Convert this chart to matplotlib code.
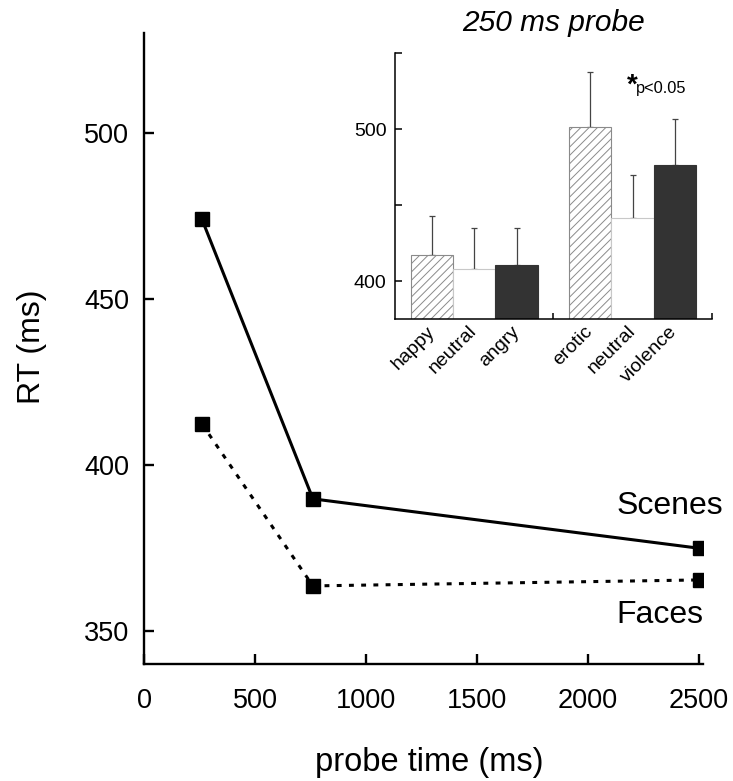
import numpy as np
import matplotlib.pyplot as plt

plt.rcParams['font.family'] = ['Liberation Sans', 'DejaVu Sans']
plt.rcParams['hatch.linewidth'] = 0.7
plt.rcParams['hatch.color'] = '#8a8a8a'

# ----- Main chart data -----
probe_time = [260, 760, 2505]
scenes_rt = [473.9, 389.8, 374.9]
faces_rt = [412.3, 363.6, 365.4]

# ----- Inset data (250 ms probe) -----
inset_labels = ['happy', 'neutral', 'angry', 'erotic', 'neutral', 'violence']
inset_rt = [417.1, 408.0, 410.5, 501.2, 441.4, 476.7]
inset_err_top = [442.9, 434.8, 434.8, 537.8, 470.1, 506.5]

fig = plt.figure(figsize=(7.33, 7.81), dpi=100)

# ----- Main axes -----
ax = fig.add_axes([0.1969, 0.1494, 0.7626, 0.8083])
ax.plot(probe_time, scenes_rt, color='black', lw=2.2, marker='s',
        markersize=10, solid_joinstyle='miter')
ax.plot(probe_time, faces_rt, color='black', lw=2.2, ls=(0, (1.6, 2.4)),
        marker='s', markersize=10)

ax.set_xlim(0, 2520)
ax.set_ylim(340, 530)
ax.set_xticks([0, 500, 1000, 1500, 2000, 2500])
ax.set_yticks([350, 400, 450, 500])
for s in ['top', 'right']:
    ax.spines[s].set_visible(False)
for s in ['left', 'bottom']:
    ax.spines[s].set_linewidth(1.7)
ax.tick_params(direction='in', length=7, width=1.7, labelsize=19.5)
ax.tick_params(axis='x', pad=17)
ax.tick_params(axis='y', pad=11)

ax.set_xlabel('probe time (ms)', fontsize=23.5, va='center')
ax.xaxis.set_label_coords(0.509, -0.1548)
ax.set_ylabel('RT (ms)', fontsize=23, va='center')
ax.yaxis.set_label_coords(-0.201, 0.503)

ax.text(2130, 385.2, 'Scenes', fontsize=23, va='baseline', ha='left')
ax.text(2130, 352.4, 'Faces', fontsize=23, va='baseline', ha='left')

# ----- Inset bar chart -----
ins = fig.add_axes([0.5389, 0.5915, 0.4322, 0.3403])
pad = 0.37
group_w = 3 + 2 * pad
idx = np.arange(6)
bar_x = pad + 0.5 + idx + (idx >= 3) * 2 * pad

styles = [
    dict(facecolor='white', edgecolor='#8a8a8a', hatch='////', lw=0.8),
    dict(facecolor='white', edgecolor='#c8c8c8', lw=0.8),
    dict(facecolor='#333333', edgecolor='#333333', lw=0.8),
]
for i in range(6):
    ins.bar(bar_x[i], inset_rt[i] - 300, bottom=300, width=1.0,
            **styles[i % 3], zorder=2)

err = np.array(inset_err_top) - np.array(inset_rt)
ins.errorbar(bar_x, inset_rt, yerr=[np.zeros(6), err], fmt='none',
             ecolor='#444444', elinewidth=0.9, capsize=2, capthick=0.9,
             zorder=1)

ins.set_xlim(0, 2 * group_w)
ins.set_ylim(375, 550)
ins.set_yticks([400, 450, 500, 550])
ins.set_yticklabels(['400', '', '500', ''])
ins.set_xticks(bar_x)
ins.set_xticklabels(inset_labels, rotation=45, ha='right', va='center',
                    rotation_mode='anchor')
ins.set_xticks([group_w, 2 * group_w], minor=True)
for s in ['top', 'right']:
    ins.spines[s].set_visible(False)
for s in ['left', 'bottom']:
    ins.spines[s].set_linewidth(1.1)
ins.tick_params(axis='x', which='major', length=0, labelsize=14, pad=7)
ins.tick_params(axis='x', which='minor', direction='in', length=4, width=1.1)
ins.tick_params(axis='y', direction='in', length=5, width=1.1, labelsize=14,
                pad=6)
ins.patch.set_alpha(0)

ins.text(0.5, 1.112, '250 ms probe', transform=ins.transAxes, fontsize=21.5,
         style='italic', ha='center', va='center')
ins.text(5.6, 529, '*', fontsize=20, fontweight='bold', ha='center',
         va='center')
ins.text(5.69, 527, 'p<0.05', fontsize=11.8, ha='left', va='center')

fig.savefig('out.png', dpi=100)
